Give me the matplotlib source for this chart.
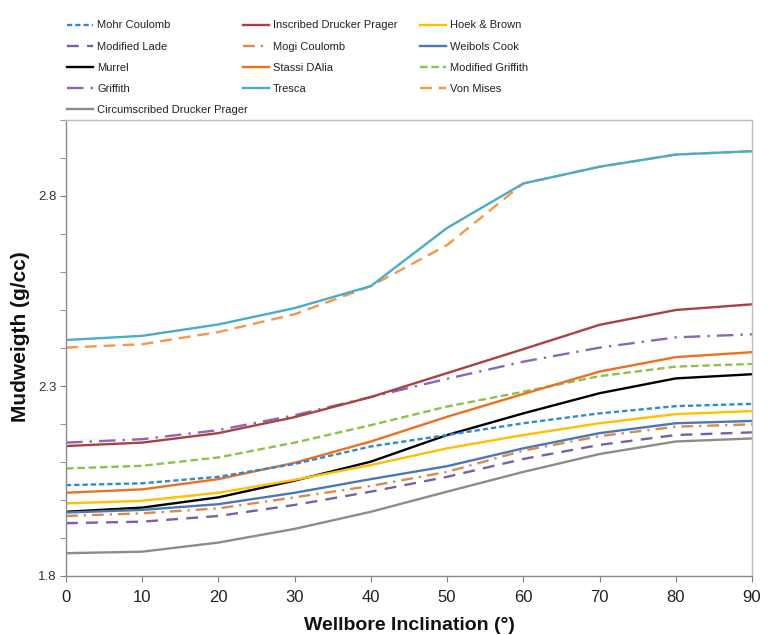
import matplotlib
matplotlib.use("Agg")
import matplotlib.pyplot as plt
from matplotlib.ticker import MultipleLocator, FixedLocator

plt.rcParams['font.family'] = ['Liberation Sans', 'DejaVu Sans']

inclination = [0, 10, 20, 30, 40, 50, 60, 70, 80, 90]

mohr_coulomb = [2.039, 2.044, 2.061, 2.095, 2.141, 2.171, 2.202, 2.228, 2.247, 2.253]
inscribed_dp = [2.142, 2.151, 2.176, 2.218, 2.271, 2.334, 2.397, 2.461, 2.500, 2.515]
hoek_brown = [1.991, 1.998, 2.019, 2.053, 2.092, 2.136, 2.171, 2.202, 2.226, 2.234]
modified_lade = [1.939, 1.943, 1.958, 1.987, 2.022, 2.061, 2.108, 2.145, 2.171, 2.178]
mogi_coulomb = [1.958, 1.965, 1.978, 2.007, 2.037, 2.074, 2.130, 2.168, 2.193, 2.199]
weibols_cook = [1.967, 1.974, 1.989, 2.019, 2.055, 2.089, 2.136, 2.176, 2.202, 2.208]
murrel = [1.969, 1.980, 2.007, 2.051, 2.101, 2.171, 2.228, 2.281, 2.320, 2.331]
stassi_dalia = [2.019, 2.028, 2.055, 2.098, 2.154, 2.219, 2.279, 2.338, 2.376, 2.389]
modified_griffith = [2.083, 2.090, 2.112, 2.151, 2.197, 2.246, 2.285, 2.326, 2.351, 2.358]
griffith = [2.151, 2.160, 2.184, 2.223, 2.271, 2.319, 2.364, 2.401, 2.428, 2.436]
tresca = [2.421, 2.432, 2.462, 2.505, 2.563, 2.716, 2.833, 2.877, 2.909, 2.918]
von_mises = [2.401, 2.410, 2.442, 2.489, 2.563, 2.671, 2.833, 2.877, 2.909, 2.918]
circumscribed_dp = [1.860, 1.864, 1.888, 1.924, 1.969, 2.022, 2.074, 2.121, 2.154, 2.162]

# (label, values, colour, dash pattern or None for solid)
series = [
    ("Mohr Coulomb", mohr_coulomb, "#2e88d6", (2.2, 1.3)),
    ("Inscribed Drucker Prager", inscribed_dp, "#a8423f", None),
    ("Hoek & Brown", hoek_brown, "#ffc000", None),
    ("Modified Lade", modified_lade, "#7b5ea6", (5, 3.5)),
    ("Mogi Coulomb", mogi_coulomb, "#d98a4e", (5, 2.5, 1, 2.5)),
    ("Weibols Cook", weibols_cook, "#4a78b4", None),
    ("Murrel", murrel, "#000000", None),
    ("Stassi DAlia", stassi_dalia, "#eb7020", None),
    ("Modified Griffith", modified_griffith, "#8fc04c", (3.2, 1.6)),
    ("Griffith", griffith, "#8a66b8", (7, 3, 1, 3)),
    ("Tresca", tresca, "#4bacc6", None),
    ("Von Mises", von_mises, "#f79646", (5, 3)),
    ("Circumscribed Drucker Prager", circumscribed_dp, "#8c8c8c", None),
]

fig = plt.figure(figsize=(7.69, 6.35), dpi=100)
ax = fig.add_axes([66 / 769, 1 - 576 / 635, (752 - 66) / 769, (576 - 120) / 635])

lines = {}
# draw in reverse so the first series sits on top, like the source
for label, vals, color, dash in series[::-1]:
    ln, = ax.plot(inclination, vals, color=color, lw=1.7, label=label)
    if dash is not None:
        ln.set_dashes(dash)
    lines[label] = ln

ax.set_xlim(0, 90)
ax.set_ylim(1.8, 3.0)
ax.xaxis.set_major_locator(MultipleLocator(10))
ax.yaxis.set_major_locator(FixedLocator([1.8, 2.3, 2.8]))
ax.yaxis.set_minor_locator(MultipleLocator(0.1))
ax.tick_params(axis="x", labelsize=12, colors="#7f7f7f", labelcolor="#222222",
               length=4, direction="out", pad=6)
ax.tick_params(axis="y", which="major", labelsize=9.5, colors="#7f7f7f",
               labelcolor="#333333", length=4, pad=3)
ax.tick_params(axis="y", which="minor", colors="#7f7f7f", length=4)

for side in ["left", "bottom"]:
    ax.spines[side].set_color("#8c8c8c")
for side in ["top", "right"]:
    ax.spines[side].set_color("#bdbdbd")
for sp in ax.spines.values():
    sp.set_linewidth(1.0)

ax.set_xlabel("Wellbore Inclination (°)", fontsize=14, fontweight="bold",
              color="#111111", labelpad=9)
ax.set_ylabel("Mudweigth (g/cc)", fontsize=15, fontweight="bold",
              color="#111111")
ax.yaxis.set_label_coords(-0.053, 0.526)

# legend in three fixed columns above the plot
columns = [
    ["Mohr Coulomb", "Modified Lade", "Murrel", "Griffith", "Circumscribed Drucker Prager"],
    ["Inscribed Drucker Prager", "Mogi Coulomb", "Stassi DAlia", "Tresca"],
    ["Hoek & Brown", "Weibols Cook", "Modified Griffith", "Von Mises"],
]
col_x = [67, 243, 420]
for names, x in zip(columns, col_x):
    leg = fig.legend([lines[n] for n in names], names, loc="upper left",
                     bbox_to_anchor=(x / 769, 1 - 20.5 / 635), frameon=False,
                     fontsize=8, handlelength=2.3, handletextpad=0.4,
                     labelspacing=1.0, borderaxespad=0, borderpad=0)
    for t in leg.get_texts():
        t.set_color("#222222")

fig.savefig("out.png", dpi=100)
